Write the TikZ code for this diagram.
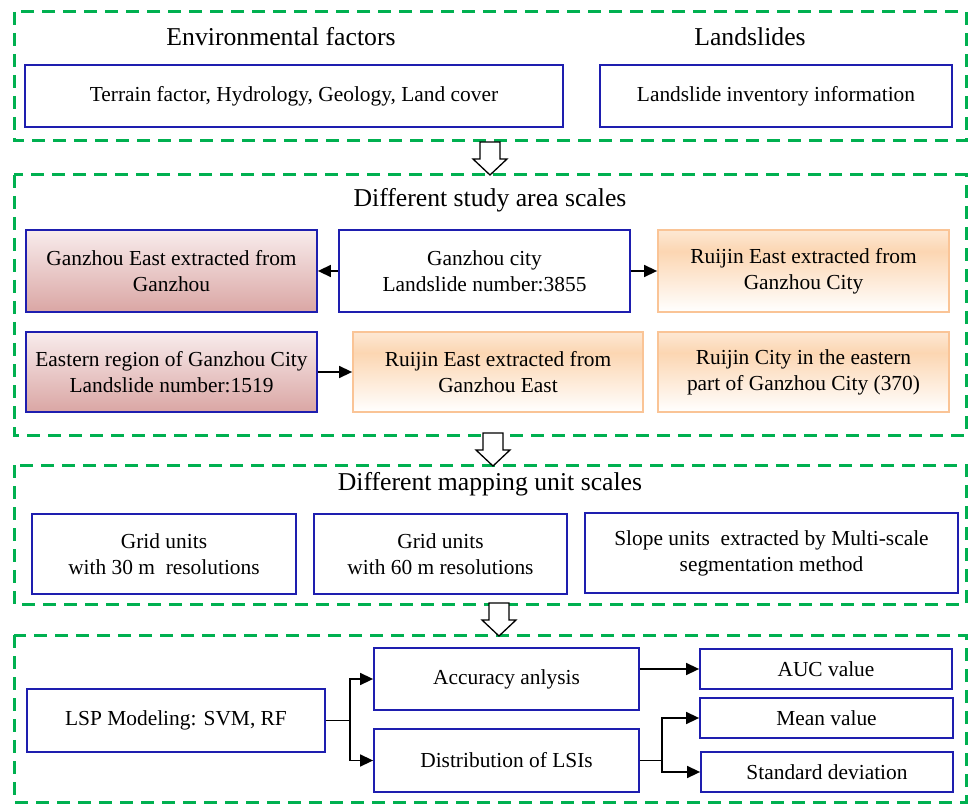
\documentclass[tikz,border=0pt]{standalone}
\usepackage{fontspec}
\setmainfont{Liberation Serif}
\usetikzlibrary{arrows.meta}

\definecolor{boxblue}{RGB}{30,30,175}
\definecolor{groupgreen}{RGB}{0,176,80}
\definecolor{pinktop}{RGB}{248,236,236}
\definecolor{pinkbot}{RGB}{218,166,164}
\definecolor{oraline}{RGB}{250,196,150}
\definecolor{oralight}{RGB}{253,232,212}
\definecolor{orastrong}{RGB}{252,214,178}
\pgfdeclareverticalshading{orashade}{100bp}{color(0bp)=(white); color(25bp)=(white);
  color(62bp)=(orastrong); color(75bp)=(oralight); color(100bp)=(oralight)}

\begin{document}
\begin{tikzpicture}[x=1pt,y=-1pt,
    group/.style={draw=groupgreen,line width=3pt,dash pattern=on 13pt off 8pt},
    title/.style={font=\fontsize{25.7}{30}\selectfont},
    box/.style={draw=boxblue,line width=1.8pt,align=center,inner sep=0pt,
      font=\fontsize{21.4}{26}\selectfont},
    pinkbox/.style={box,top color=pinktop,bottom color=pinkbot},
    orabox/.style={box,draw=oraline,shading=orashade},
    arr/.style={-{Triangle[length=13pt,width=12pt]},line width=1.5pt},
    bigdown/.pic={\draw[line width=1.3pt,fill=white] (-10,0) -- (10,0) -- (10,17)
      -- (17,17) -- (0,33) -- (-17,17) -- (-10,17) -- cycle;}]

\useasboundingbox (0,0) rectangle (970,805);

% Dashed groups
\draw[group] (14,12) rectangle (966,141);
\draw[group] (14,175) rectangle (966,435);
\draw[group] (14,465) rectangle (966,604);
\draw[group] (14,635) rectangle (966,802);

% Big hollow arrows between groups
\pic (downA) at (490,142) {bigdown};
\pic (downB) at (493,433) {bigdown};
\pic (downC) at (499,603) {bigdown};

% Input data
\node[title] (envtitle) at (281,37) {Environmental factors};
\node[title] (slidetitle) at (750,37) {Landslides};
\node[box,minimum width=538pt,minimum height=62pt] (terrain) at (294,96)
  {Terrain factor, Hydrology, Geology, Land cover};
\node[box,minimum width=352pt,minimum height=62pt] (inventory) at (776,96)
  {Landslide inventory information};

% Study area scales
\node[title] (areatitle) at (490,200) {Different study area scales};
\node[pinkbox,minimum width=291pt,minimum height=82pt] (gzeast) at (171.5,271)
  {Ganzhou East extracted from\\Ganzhou};
\node[box,minimum width=291pt,minimum height=82pt] (gzcity) at (484.5,271)
  {Ganzhou city\\Landslide number:3855};
\node[orabox,minimum width=291pt,minimum height=82pt] (rjcity) at (803.5,271)
  {Ruijin East extracted from\\Ganzhou City};
\node[pinkbox,minimum width=291pt,minimum height=80pt] (eastreg) at (171.5,372)
  {Eastern region of Ganzhou City\\Landslide number:1519};
\node[orabox,minimum width=290pt,minimum height=80pt] (rjeast) at (498,372)
  {Ruijin East extracted from\\Ganzhou East};
\node[orabox,minimum width=291pt,minimum height=80pt] (rjpart) at (803.5,372)
  {Ruijin City in the eastern\\part of Ganzhou City (370)};

\draw[arr] (gzcity) -- (gzeast);
\draw[arr] (gzcity) -- (rjcity);
\draw[arr] (eastreg) -- (rjeast);

% Mapping unit scales
\node[title] (unittitle) at (490,484) {Different mapping unit scales};
\node[box,minimum width=264pt,minimum height=80pt] (grid30) at (164,554)
  {Grid units\\with 30 m~ resolutions};
\node[box,minimum width=253pt,minimum height=80pt] (grid60) at (440.5,554)
  {Grid units\\with 60 m resolutions};
\node[box,minimum width=373pt,minimum height=80pt] (slope) at (771.5,553)
  {Slope units~ extracted by Multi-scale\\segmentation method};

% Modeling and evaluation
\node[box,minimum width=298pt,minimum height=63pt] (lsp) at (176,720.5)
  {LSP Modeling: SVM, RF};
\node[box,minimum width=265pt,minimum height=62pt] (acc) at (506.5,679)
  {Accuracy anlysis};
\node[box,minimum width=265pt,minimum height=63pt] (dist) at (506.5,760.5)
  {Distribution of LSIs};
\node[box,minimum width=252pt,minimum height=40pt] (auc) at (826,669)
  {AUC value};
\node[box,minimum width=253pt,minimum height=40pt] (mean) at (826.5,718)
  {Mean value};
\node[box,minimum width=252pt,minimum height=40pt] (std) at (827,772)
  {Standard deviation};

\coordinate (splitA) at (350,720.5);
\coordinate (splitB) at (662,760.5);
\draw[arr] (lsp.east) -- (splitA) |- (acc.west);
\draw[arr] (splitA) |- (dist.west);
\draw[arr] (acc.east |- auc.west) -- (auc.west);
\draw[arr] (dist.east) -- (splitB) |- (mean.west);
\draw[arr] (splitB) |- (std.west);

\end{tikzpicture}
\end{document}
